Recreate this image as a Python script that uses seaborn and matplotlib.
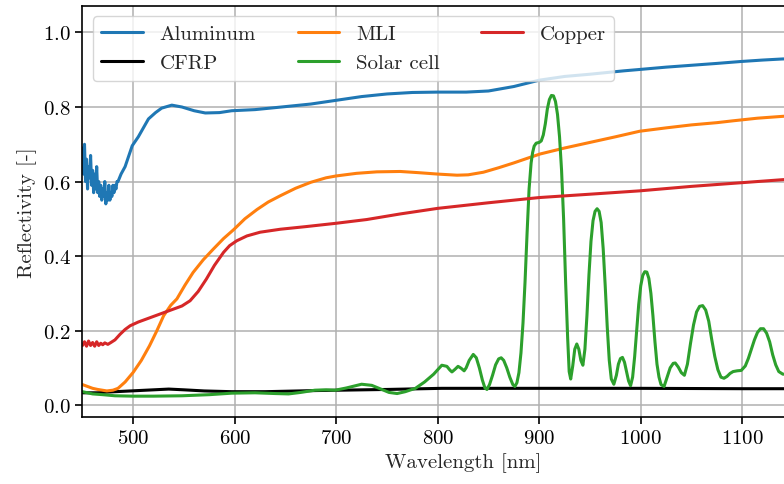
import matplotlib
matplotlib.use('Agg')
import matplotlib.pyplot as plt
import seaborn as sns

# Aluminum (noisy at short wavelengths)
al_x = [450, 451, 452, 453, 454, 455, 456, 457, 458, 459, 460, 461, 462, 463, 464, 465, 466, 467,
        468, 469, 470, 471, 472, 473, 474, 475, 476, 477, 478, 479, 480, 481, 482, 483, 484, 485,
        488, 492, 499, 505, 515, 522, 528, 538, 548, 560, 571, 585, 597, 620, 646, 675, 700, 725,
        750, 775, 800, 828, 850, 875, 900, 925, 950, 983, 1000, 1025, 1050, 1075, 1098, 1120, 1140, 1160]
al_y = [0.69, 0.62, 0.70, 0.60, 0.66, 0.58, 0.64, 0.61, 0.67, 0.59, 0.63, 0.57, 0.62, 0.58, 0.64, 0.57,
        0.60, 0.56, 0.59, 0.55, 0.58, 0.56, 0.60, 0.54, 0.57, 0.55, 0.59, 0.55, 0.57, 0.56, 0.59, 0.57,
        0.59, 0.58, 0.60, 0.60,
        0.62, 0.64, 0.696, 0.72, 0.768, 0.785, 0.797, 0.805, 0.80, 0.79, 0.784, 0.785, 0.79, 0.793,
        0.80, 0.808, 0.818, 0.828, 0.835, 0.839, 0.840, 0.840, 0.843, 0.855, 0.872, 0.882, 0.888,
        0.897, 0.901, 0.907, 0.912, 0.917, 0.922, 0.926, 0.929, 0.930]

# CFRP
cfrp_x = [450, 465, 475, 490, 505, 520, 535, 550, 570, 597, 630, 680, 750, 804, 900, 1000, 1100, 1160]
cfrp_y = [0.033, 0.033, 0.035, 0.037, 0.039, 0.041, 0.043, 0.041, 0.038, 0.036, 0.036, 0.039,
          0.042, 0.045, 0.045, 0.045, 0.044, 0.044]

# MLI
mli_x = [450, 455, 460, 465, 474, 480, 485, 492, 500, 508, 516, 523, 530, 537, 543, 551, 559, 569,
         579, 589, 599, 610, 622, 633, 645, 660, 675, 690, 700, 720, 740, 763, 780, 800, 819, 830,
         845, 860, 875, 890, 901, 925, 950, 975, 999, 1025, 1050, 1075, 1091, 1115, 1140, 1160]
mli_y = [0.055, 0.050, 0.045, 0.042, 0.038, 0.040, 0.045, 0.062, 0.088, 0.120, 0.159, 0.198, 0.240,
         0.268, 0.285, 0.322, 0.356, 0.390, 0.419, 0.447, 0.471, 0.500, 0.525, 0.545, 0.562, 0.582,
         0.598, 0.610, 0.615, 0.622, 0.626, 0.627, 0.624, 0.620, 0.617, 0.618, 0.625, 0.637, 0.650,
         0.664, 0.674, 0.690, 0.705, 0.720, 0.735, 0.744, 0.752, 0.758, 0.763, 0.770, 0.775, 0.778]

# Solar cell
solar_x = [450, 460, 470, 482, 500, 520, 548, 575, 597, 620, 640, 653, 665, 679, 690, 699, 710, 725,
           735, 745, 752, 760, 768, 778, 787, 796, 800, 804, 809, 812, 814, 817, 820, 823, 826, 828,
           831, 835, 838, 841, 844, 846.5, 848.5, 851, 854, 857, 860, 862.5, 865, 868, 871, 874, 876,
           878, 880, 882, 884, 886, 888, 890, 892, 893.5, 895, 897, 900, 902, 904, 906, 908, 910,
           912, 914, 916, 918, 920, 922, 924, 926, 928, 929.5, 931, 933, 935, 937, 939, 941, 943,
           945, 947, 949, 951, 953, 955, 957, 959, 961, 963, 965, 967, 969, 971, 973.5, 976, 978,
           980, 982, 984, 986, 988, 990, 992, 994, 996, 998, 1000, 1002, 1004, 1006, 1008, 1010,
           1012, 1014, 1016, 1018, 1020, 1023, 1026, 1029, 1032, 1034, 1037, 1040, 1043, 1046,
           1049, 1052, 1055, 1058, 1061, 1064, 1067, 1070, 1073, 1076, 1079, 1082, 1085, 1088,
           1091, 1095, 1099, 1103, 1106, 1109, 1112, 1115, 1118, 1121, 1124, 1127, 1130, 1133,
           1136, 1140, 1145, 1150, 1160]
solar_y = [0.036, 0.030, 0.028, 0.025, 0.024, 0.024, 0.025, 0.028, 0.032, 0.033, 0.031, 0.030,
           0.034, 0.040, 0.041, 0.040, 0.046, 0.056, 0.053, 0.042, 0.034, 0.031, 0.036, 0.045,
           0.062, 0.083, 0.095, 0.107, 0.104, 0.094, 0.089, 0.096, 0.104, 0.099, 0.092, 0.100,
           0.120, 0.136, 0.127, 0.100, 0.067, 0.046, 0.042, 0.055, 0.080, 0.108, 0.124, 0.127,
           0.120, 0.100, 0.075, 0.055, 0.050,
           0.060, 0.087, 0.140, 0.220, 0.330, 0.460, 0.580, 0.650, 0.678, 0.695, 0.703, 0.705,
           0.709, 0.725, 0.755, 0.795, 0.820, 0.831, 0.830, 0.815, 0.780, 0.720, 0.630, 0.500,
           0.330, 0.180, 0.090, 0.070, 0.105, 0.150, 0.164, 0.150, 0.120, 0.107, 0.150, 0.240,
           0.350, 0.440, 0.495, 0.520, 0.527, 0.520, 0.490, 0.420, 0.320, 0.210, 0.120, 0.070,
           0.056, 0.080, 0.110, 0.125, 0.128, 0.115, 0.090, 0.065, 0.052, 0.075, 0.130, 0.200,
           0.270, 0.320, 0.348, 0.358, 0.357, 0.340, 0.300, 0.240, 0.170, 0.110, 0.075, 0.055,
           0.050, 0.075, 0.100, 0.112, 0.113, 0.102, 0.087, 0.080, 0.110, 0.165, 0.215, 0.250,
           0.265, 0.267, 0.255, 0.225, 0.175, 0.130, 0.095, 0.075, 0.072, 0.077, 0.085, 0.090,
           0.092, 0.093, 0.105, 0.125, 0.150, 0.175, 0.195, 0.205, 0.205, 0.193, 0.170, 0.135,
           0.108, 0.090, 0.083, 0.083, 0.088, 0.095]

# Copper
cu_x = [450, 452, 454, 456, 458, 460, 462, 464, 466, 468, 470, 472, 475, 478, 482, 487, 492, 497,
        505, 513, 525, 540, 548, 556, 564, 572, 580, 589, 595, 602, 612, 625, 645, 670, 700, 730,
        763, 800, 850, 900, 950, 999, 1050, 1100, 1140, 1160]
cu_y = [0.160, 0.170, 0.158, 0.172, 0.160, 0.168, 0.158, 0.170, 0.160, 0.166, 0.162, 0.167, 0.163,
        0.168, 0.175, 0.190, 0.203, 0.213, 0.223, 0.231, 0.243, 0.258, 0.266, 0.280, 0.305, 0.338,
        0.375, 0.410, 0.428, 0.441, 0.454, 0.464, 0.472, 0.479, 0.488, 0.498, 0.513, 0.528, 0.543,
        0.557, 0.566, 0.575, 0.587, 0.597, 0.605, 0.608]

series = [
    ('Aluminum', al_x, al_y, '#1f77b4'),
    ('CFRP', cfrp_x, cfrp_y, 'black'),
    ('MLI', mli_x, mli_y, '#ff7f0e'),
    ('Solar cell', solar_x, solar_y, '#2ca02c'),
    ('Copper', cu_x, cu_y, '#d62728'),
]

sns.set_theme(style='ticks', rc={
    'axes.edgecolor': 'black',
    'axes.linewidth': 1.2,
    'axes.grid': True,
    'grid.color': '#b0b0b0',
    'grid.linewidth': 1.1,
    'xtick.color': 'black',
    'ytick.color': 'black',
    'xtick.major.width': 1.2,
    'ytick.major.width': 1.2,
    'xtick.major.size': 5,
    'ytick.major.size': 5,
})
plt.rcParams['font.family'] = ['cmr10', 'DejaVu Serif']
plt.rcParams['axes.formatter.use_mathtext'] = True
fs = 15

fig = plt.figure(figsize=(7.84, 4.85), dpi=100)
ax = fig.add_axes([0.1052, 0.1381, 0.971, 0.8474])

for name, xs, ys, col in series:
    sns.lineplot(x=xs, y=ys, ax=ax, color=col, label=name, linewidth=2.2)

ax.set_xlim(450, 1200)
ax.set_ylim(-0.032, 1.071)
ax.set_xticks([500, 600, 700, 800, 900, 1000, 1100])
ax.set_yticks([0.0, 0.2, 0.4, 0.6, 0.8, 1.0])
ax.tick_params(labelsize=fs)
ax.set_xlabel('Wavelength [nm]', fontsize=fs)
ax.set_ylabel('Reflectivity [-]', fontsize=fs)
ax.legend(loc='upper left', ncol=3, fontsize=fs, framealpha=0.8)

fig.savefig('out.png', dpi=100)
